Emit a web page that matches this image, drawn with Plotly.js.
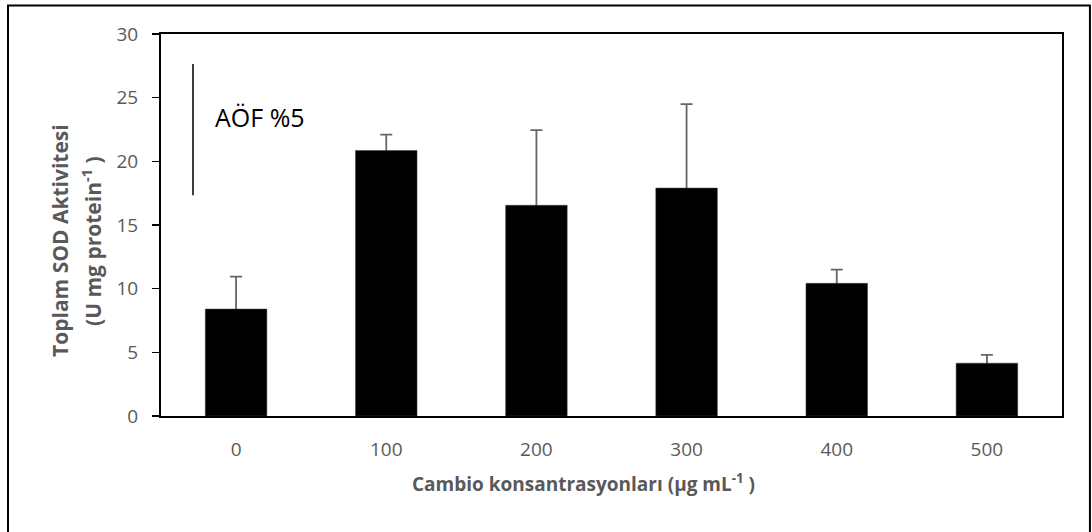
<!DOCTYPE html>
<html>
<head>
<meta charset="utf-8">
<script src="https://cdn.plot.ly/plotly-3.0.1.min.js"></script>
<style>
html,body{margin:0;padding:0;background:#fff;}
#chart{width:1092px;height:532px;}
</style>
</head>
<body>
<div id="chart"></div>
<script>
const categories = ["0", "100", "200", "300", "400", "500"];
const sodValues = [8.4, 20.85, 16.55, 17.9, 10.42, 4.15];
const sodErrors = [2.55, 1.25, 5.9, 6.6, 1.08, 0.65];
const yTicks = [0, 5, 10, 15, 20, 25, 30];
const lsdLabel = "AÖF %5";
const lsdBar = {x: -0.287, y0: 17.33, y1: 27.64};

const gray = "#595959";
const font = "Open Sans, DejaVu Sans, sans-serif";
const xPos = categories.map((c, i) => i);

// error bars drawn first, then the black bars cover their lower half
const errTrace = {
  type: "bar",
  x: xPos,
  y: sodValues,
  width: 0.41,
  marker: {color: "rgba(0,0,0,0)", line: {width: 0}},
  error_y: {type: "data", array: sodErrors, symmetric: true, visible: true,
            color: "#666666", thickness: 1.8, width: 6},
  hoverinfo: "skip"
};
const barTrace = {
  type: "bar",
  x: xPos,
  y: sodValues,
  width: 0.41,
  marker: {color: "#000000", line: {color: "#404040", width: 0.5}},
  hoverinfo: "skip"
};

const layout = {
  width: 1092, height: 532,
  margin: {l: 161, r: 30, t: 34, b: 115.5},
  paper_bgcolor: "#ffffff", plot_bgcolor: "#ffffff",
  showlegend: false,
  barmode: "overlay",
  font: {family: font, color: gray},
  xaxis: {
    range: [-0.5, 5.5],
    tickmode: "array",
    tickvals: xPos,
    ticktext: categories,
    ticks: "",
    tickfont: {size: 19, color: gray, family: font},
    showgrid: false, zeroline: false,
    showline: true, linecolor: "#000000", linewidth: 2, mirror: true,
    ticklabelstandoff: 15,
    fixedrange: true
  },
  yaxis: {
    range: [0, 30],
    tickmode: "array",
    tickvals: yTicks,
    ticktext: yTicks.map(String),
    ticks: "outside", ticklen: 7, tickwidth: 1.5, tickcolor: "#000000",
    tickfont: {size: 19, color: gray, family: font},
    showgrid: false, zeroline: false,
    showline: true, linecolor: "#000000", linewidth: 2, mirror: true,
    ticklabelstandoff: 10,
    fixedrange: true
  },
  shapes: [
    {type: "line", xref: "x", yref: "y", x0: lsdBar.x, x1: lsdBar.x, y0: lsdBar.y0, y1: lsdBar.y1,
     line: {color: "#000000", width: 1.5}},
    {type: "rect", xref: "paper", yref: "paper", x0: -0.1698, x1: 1.031, y0: -0.35, y1: 1.0744,
     line: {color: "#000000", width: 2}, fillcolor: "rgba(0,0,0,0)", layer: "below"}
  ],
  annotations: [
    {xref: "x", yref: "y", x: -0.153, y: 23.5, xanchor: "left", yanchor: "middle",
     text: lsdLabel, showarrow: false, font: {size: 25, color: "#000000", family: font}},
    {xref: "paper", yref: "paper", x: (60 - 161) / 901, y: (416.5 - 241) / 383, xanchor: "center", yanchor: "middle",
     text: "<b>Toplam SOD Aktivitesi</b>", textangle: -90, showarrow: false,
     font: {size: 21, color: gray, family: font}},
    {xref: "paper", yref: "paper", x: (92 - 161) / 901, y: (416.5 - 241) / 383, xanchor: "center", yanchor: "middle",
     text: "<b>(U mg protein<sup>-1</sup> )</b>", textangle: -90, showarrow: false,
     font: {size: 21, color: gray, family: font}},
    {xref: "paper", yref: "paper", x: (583 - 161) / 901, y: (416.5 - 484) / 383, xanchor: "center", yanchor: "middle",
     text: "<b>Cambio konsantrasyonları (µg mL<sup>-1</sup> )</b>", showarrow: false,
     font: {size: 19, color: gray, family: font}}
  ]
};

Plotly.newPlot("chart", [errTrace, barTrace], layout, {displayModeBar: false, staticPlot: true});
</script>
</body>
</html>
